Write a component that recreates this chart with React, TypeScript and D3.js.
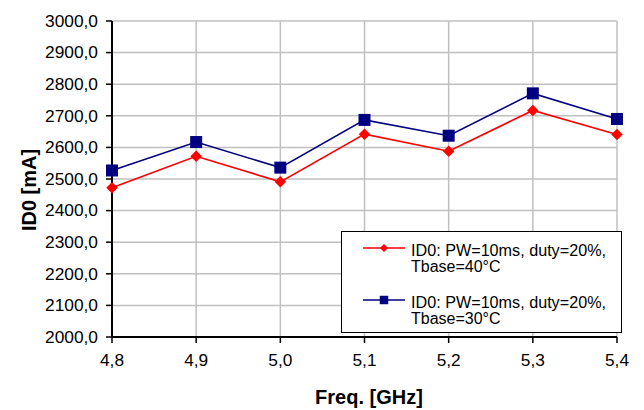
import React from "react";
import * as d3 from "d3";

const freqs = [4.8, 4.9, 5.0, 5.1, 5.2, 5.3, 5.4];
const id0Tbase40 = [2472, 2572, 2491, 2642, 2588, 2717, 2641];
const id0Tbase30 = [2527, 2617, 2536, 2687, 2637, 2771, 2690];
const yTicks = [2000, 2100, 2200, 2300, 2400, 2500, 2600, 2700, 2800, 2900, 3000];
const legendLabels = [
  ["ID0: PW=10ms, duty=20%,", "Tbase=40°C"],
  ["ID0: PW=10ms, duty=20%,", "Tbase=30°C"],
];

const W = 644;
const H = 410;
const left = 112;
const right = 617;
const top = 21;
const bottom = 337;
const FONT = "'Liberation Sans', Arial, sans-serif";

export default function App() {
  const x = d3.scaleLinear().domain([4.8, 5.4]).range([left, right]);
  const y = d3.scaleLinear().domain([2000, 3000]).range([bottom, top]);
  const fmt = (v: number) => v.toFixed(1).replace(".", ",");
  const line = d3
    .line<number>()
    .x((_, i) => x(freqs[i]))
    .y((d) => y(d));

  const series = [
    { data: id0Tbase40, color: "#ff0000", marker: "diamond" },
    { data: id0Tbase30, color: "#000080", marker: "square" },
  ];

  const marker = (kind: string, cx: number, cy: number, s: number, color: string, key: any) =>
    kind === "square" ? (
      <rect key={key} x={cx - s / 2} y={cy - s / 2} width={s} height={s} fill={color} />
    ) : (
      <path
        key={key}
        d={`M${cx},${cy - s / 2}L${cx + s / 2},${cy}L${cx},${cy + s / 2}L${cx - s / 2},${cy}Z`}
        fill={color}
      />
    );

  return (
    <svg
      width={W}
      height={H}
      style={{ position: "absolute", left: 0, top: 0, background: "#fff" }}
      fontFamily={FONT}
    >
      <rect x={0} y={0} width={W} height={H} fill="#fff" />
      {/* grid */}
      {yTicks.map((t) => (
        <line key={"gy" + t} x1={left} x2={right} y1={y(t)} y2={y(t)} stroke="#c0c0c0" strokeWidth={1.5} />
      ))}
      {freqs.map((f) => (
        <line key={"gx" + f} x1={x(f)} x2={x(f)} y1={top} y2={bottom} stroke="#c0c0c0" strokeWidth={1.5} />
      ))}
      {/* axes */}
      <line x1={left} x2={left} y1={top} y2={bottom} stroke="#000" strokeWidth={2} />
      <line x1={left} x2={right} y1={bottom} y2={bottom} stroke="#000" strokeWidth={2} />
      {yTicks.map((t) => (
        <g key={"ty" + t}>
          <line x1={left - 6} x2={left} y1={y(t)} y2={y(t)} stroke="#000" strokeWidth={1.5} />
          <text
            x={98}
            y={y(t)}
            dy="0.36em"
            textAnchor="end"
            fontSize={16}
            fill="#000"
            textLength={53}
            lengthAdjust="spacingAndGlyphs"
          >
            {fmt(t)}
          </text>
        </g>
      ))}
      {freqs.map((f) => (
        <g key={"tx" + f}>
          <line x1={x(f)} x2={x(f)} y1={bottom} y2={bottom + 6} stroke="#000" strokeWidth={1.5} />
          <text
            x={x(f)}
            y={366}
            textAnchor="middle"
            fontSize={16}
            fill="#000"
            textLength={24}
            lengthAdjust="spacingAndGlyphs"
          >
            {fmt(f)}
          </text>
        </g>
      ))}
      {/* titles */}
      <text x={369} y={404} textAnchor="middle" fontSize={20} fontWeight="bold" fill="#000">
        Freq. [GHz]
      </text>
      <text
        transform={`translate(36,190) rotate(-90)`}
        textAnchor="middle"
        fontSize={20}
        fontWeight="bold"
        fill="#000"
      >
        ID0 [mA]
      </text>
      {/* series */}
      {series.map((s, si) => (
        <g key={"s" + si}>
          <path d={line(s.data) || ""} fill="none" stroke={s.color} strokeWidth={1.6} />
          {s.data.map((v, i) =>
            marker(s.marker, x(freqs[i]), y(v), s.marker === "square" ? 12 : 11.5, s.color, i)
          )}
        </g>
      ))}
      {/* legend */}
      <rect x={341.5} y={231.5} width={280} height={101} fill="#fff" stroke="#000" strokeWidth={1} />
      {series.map((s, si) => {
        const ly = si === 0 ? 248 : 300;
        return (
          <g key={"l" + si}>
            <line x1={363} x2={405} y1={ly} y2={ly} stroke={s.color} strokeWidth={1.6} />
            {marker(s.marker, 384, ly, s.marker === "square" ? 8.5 : 8, s.color, "m")}
            <text x={411} y={ly + 8} fontSize={16} fill="#000" textLength={195} lengthAdjust="spacingAndGlyphs">
              {legendLabels[si][0]}
            </text>
            <text x={411} y={ly + 24} fontSize={16} fill="#000">
              {legendLabels[si][1]}
            </text>
          </g>
        );
      })}
    </svg>
  );
}
